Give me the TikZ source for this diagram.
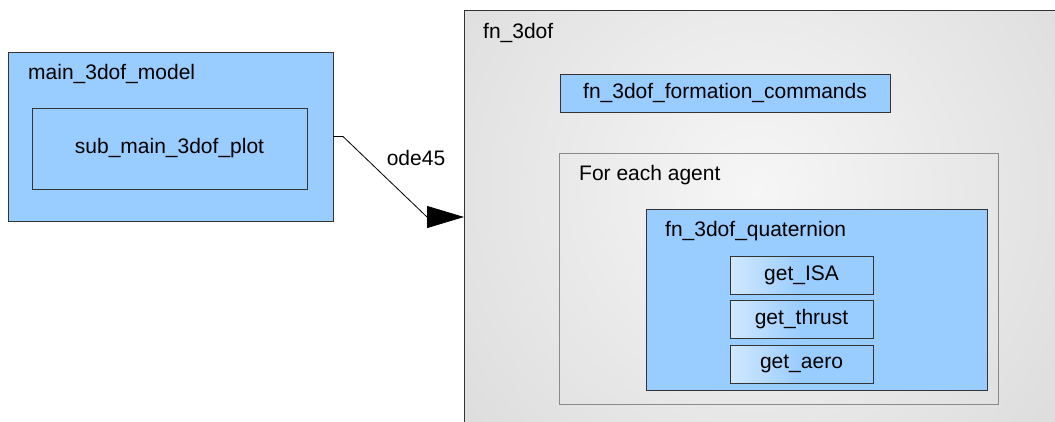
\documentclass[tikz,border=0pt]{standalone}
\usepackage{fontspec}
\setmainfont{Liberation Sans}
\usetikzlibrary{arrows.meta}
\definecolor{boxblue}{HTML}{99CCFF}
\definecolor{boxedge}{HTML}{333333}
\definecolor{loopedge}{HTML}{8A8A8A}
\definecolor{shadein}{HTML}{F6F6F6}
\definecolor{shadeout}{HTML}{C4C4C4}
\tikzset{
  blk/.style={draw=boxedge, line width=0.9pt, fill=boxblue, inner sep=0pt, outer sep=0pt, anchor=north west},
  subblk/.style={draw=boxedge, line width=0.9pt, inner sep=0pt, outer sep=0pt, anchor=north west,
    left color=boxblue!45!white, right color=boxblue, middle color=boxblue},
  frame/.style={draw=#1, line width=0.9pt, inner sep=0pt, outer sep=0pt, anchor=north west},
  ttl/.style={anchor=west, inner sep=0pt, font=\fontsize{21}{25}\selectfont},
  lbl/.style={inner sep=0pt, font=\fontsize{21}{25}\selectfont},
  flow/.style={draw=black, line width=0.8pt, -{Triangle[length=37pt,width=22pt]}}
}
\begin{document}
\begin{tikzpicture}[x=1pt, y=-1pt]
  \useasboundingbox (0,0) rectangle (1055,421);
  \clip (0,0) rectangle (1055,421);
  \fill[white] (0,0) rectangle (1055,421);

  % shaded outer function frame
  \begin{scope}
    \clip (464,10) rectangle (1070,424);
    \shade[inner color=shadein, outer color=shadeout] (756,190) circle (760);
  \end{scope}
  \node[frame=boxedge, minimum width=606, minimum height=414] (fn) at (464,10) {};
  \node[ttl] (fnt) at (483,33) {fn\_3dof};

  % top-level model
  \node[blk, minimum width=325, minimum height=169] (main) at (8,52) {};
  \node[ttl] (maint) at (28,74) {main\_3dof\_model};
  \node[blk, minimum width=275, minimum height=81] (plot) at (32,108) {};
  \node[lbl] at (plot.center) {sub\_main\_3dof\_plot};

  % formation commands
  \node[blk, minimum width=330, minimum height=38] (form) at (560,74) {};
  \node[lbl] at (form.center) {fn\_3dof\_formation\_commands};

  % per-agent loop
  \node[frame=loopedge, minimum width=439, minimum height=251] (loop) at (559,153) {};
  \node[ttl] (loopt) at (579,175) {For each agent};

  % quaternion dynamics
  \node[blk, minimum width=341, minimum height=181] (quat) at (646,209) {};
  \node[ttl] (quatt) at (665,231) {fn\_3dof\_quaternion};
  \node[subblk, minimum width=143, minimum height=38] (isa) at (730,256) {};
  \node[lbl] at (isa.center) {get\_ISA};
  \node[subblk, minimum width=143, minimum height=38] (thrust) at (730,300) {};
  \node[lbl] at (thrust.center) {get\_thrust};
  \node[subblk, minimum width=143, minimum height=38] (aero) at (730,345) {};
  \node[lbl] at (aero.center) {get\_aero};

  % solver call
  \coordinate (bend) at (427,217);
  \draw[flow] (main.east) -- ++(10,0) -- (bend) -- (fn.west);
  \node[lbl] (ode) at (416,158) {ode45};
\end{tikzpicture}
\end{document}
